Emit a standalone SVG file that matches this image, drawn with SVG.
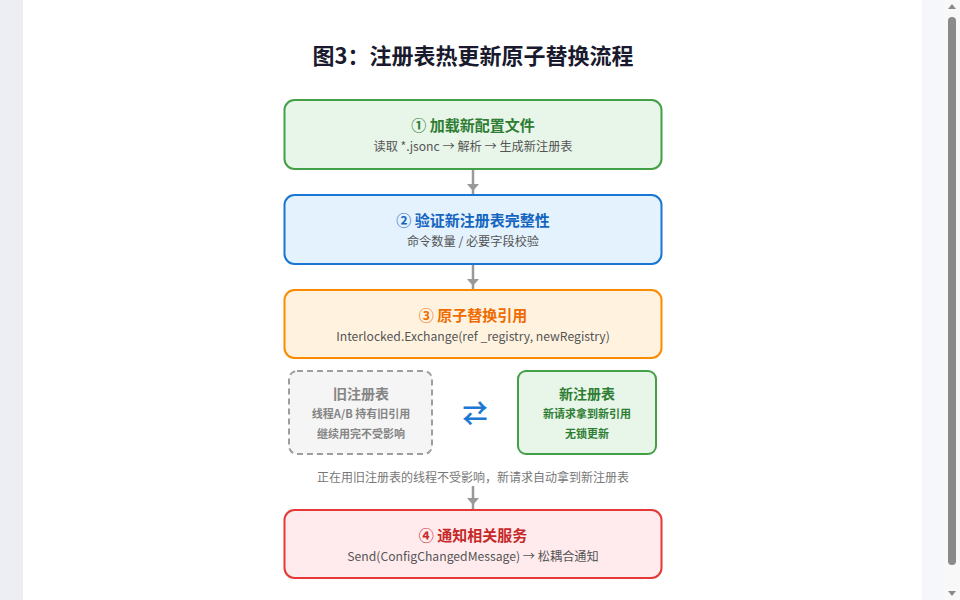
<svg xmlns="http://www.w3.org/2000/svg" width="960" height="600" viewBox="0 0 960 600">
  <defs>
    <linearGradient id="bg" x1="0" y1="0" x2="1" y2="0">
      <stop offset="0" stop-color="#eceef3"/>
      <stop offset="1" stop-color="#f6f7fa"/>
    </linearGradient>
    <style>
      text { font-family: "Noto Sans CJK SC", "Noto Sans", sans-serif; text-anchor: middle; }
      .title { font-size: 22px; font-weight: 700; fill: #1a1a2e; }
      .step { stroke-width: 2; }
      .h { font-size: 15px; font-weight: 700; }
      .sub { font-size: 12.2px; fill: #555555; }
      .small { font-size: 11px; font-weight: 700; }
      .cap { font-size: 12px; fill: #777777; }
      .conn line { stroke: #999999; stroke-width: 2.5; }
      .conn polygon { fill: #999999; }
    </style>
  </defs>
  <rect x="0" y="0" width="960" height="600" fill="url(#bg)"/>
  <rect x="23" y="-14" width="899" height="630" rx="14" fill="#ffffff"/>
  <!-- scrollbar -->
  <rect x="944" y="0" width="16" height="600" fill="#f8f8f8"/>
  <rect x="948" y="17" width="8" height="548" rx="4" fill="#8a8a8a"/>
  <polygon points="948,9 956,9 952,4" fill="#8a8a8a"/>
  <polygon points="948,591 956,591 952,596" fill="#8a8a8a"/>

  <text class="title" x="473" y="64">图3：注册表热更新原子替换流程</text>

  <g class="conn" id="connectors">
    <line x1="473" y1="169" x2="473" y2="194"/>
    <polygon points="467,184 479,184 473,191"/>
    <line x1="473" y1="264" x2="473" y2="289"/>
    <polygon points="467,279 479,279 473,286"/>
    <line x1="473" y1="486" x2="473" y2="510"/>
    <polygon points="467,498 479,498 473,505"/>
  </g>

  <g id="step1">
    <rect class="step" x="284.5" y="100" width="377" height="69" rx="10" fill="#e8f5e9" stroke="#43a047"/>
    <text class="h" x="473" y="131" fill="#2e7d32">① 加载新配置文件</text>
    <text class="sub" x="473" y="151">读取 *.jsonc → 解析 → 生成新注册表</text>
  </g>
  <g id="step2">
    <rect class="step" x="284.5" y="195" width="377" height="69" rx="10" fill="#e3f2fd" stroke="#1976d2"/>
    <text class="h" x="473" y="226" fill="#1565c0">② 验证新注册表完整性</text>
    <text class="sub" x="473" y="246">命令数量 / 必要字段校验</text>
  </g>
  <g id="step3">
    <rect class="step" x="284.5" y="290" width="377" height="68" rx="10" fill="#fff3e0" stroke="#fb8c00"/>
    <text class="h" x="473" y="321" fill="#ef6c00">③ 原子替换引用</text>
    <text class="sub" x="473" y="341">Interlocked.Exchange(ref _registry, newRegistry)</text>
  </g>
  <g id="old-registry">
    <rect x="289" y="371" width="143" height="83" rx="8" fill="#f5f5f5" stroke="#9e9e9e" stroke-width="2" stroke-dasharray="6,4"/>
    <text x="361" y="399" font-size="14" font-weight="700" fill="#858585">旧注册表</text>
    <text class="small" x="361" y="418" fill="#858585">线程A/B 持有旧引用</text>
    <text class="small" x="361" y="438" fill="#858585">继续用完不受影响</text>
  </g>
  <g id="swap">
    <text x="475" y="422" font-size="24" fill="#1976d2" stroke="#1976d2" stroke-width="0.8" font-family="DejaVu Sans, sans-serif">⇄</text>
  </g>
  <g id="new-registry">
    <rect x="518" y="371" width="138" height="83" rx="8" fill="#e8f5e9" stroke="#43a047" stroke-width="2"/>
    <text x="587" y="399" font-size="14" font-weight="700" fill="#2e7d32">新注册表</text>
    <text class="small" x="587" y="418" fill="#2e7d32">新请求拿到新引用</text>
    <text class="small" x="587" y="438" fill="#2e7d32">无锁更新</text>
  </g>
  <text class="cap" x="473" y="482">正在用旧注册表的线程不受影响，新请求自动拿到新注册表</text>
  <g id="step4">
    <rect class="step" x="284.5" y="510" width="377" height="68" rx="10" fill="#ffebee" stroke="#e53935"/>
    <text class="h" x="473" y="541" fill="#c62828">④ 通知相关服务</text>
    <text class="sub" x="473" y="561">Send(ConfigChangedMessage) → 松耦合通知</text>
  </g>
</svg>
